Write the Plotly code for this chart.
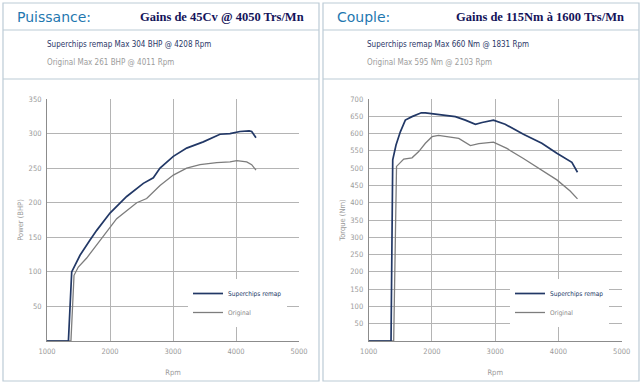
import plotly.graph_objects as go

# ---------------- data ----------------
power_rpm_remap = [1000, 1340, 1392, 1524, 1683, 1789, 2000, 2265, 2529, 2688, 2794, 3005, 3217, 3481, 3746, 3905, 4063, 4208, 4249, 4317]
power_remap = [0, 0, 100, 124, 146, 160, 185, 209, 228, 236, 250, 267, 279, 288, 299, 300, 303, 304, 303, 294]

power_rpm_orig = [1000, 1380, 1429, 1497, 1630, 1789, 1973, 2106, 2424, 2582, 2794, 3005, 3217, 3429, 3693, 3905, 4011, 4170, 4249, 4317]
power_orig = [0, 0, 95, 107, 120, 139, 160, 177, 200, 206, 225, 240, 250, 255, 258, 259, 261, 259, 255, 247]

torque_rpm_remap = [1000, 1353, 1380, 1432, 1500, 1579, 1685, 1791, 1831, 1896, 2002, 2212, 2370, 2528, 2687, 2793, 2972, 3157, 3446, 3737, 3975, 4212, 4301]
torque_remap = [0, 0, 524, 567, 605, 639, 649, 658, 660, 660, 658, 654, 649, 639, 627, 632, 639, 627, 598, 572, 543, 517, 488]

torque_rpm_orig = [1000, 1395, 1440, 1475, 1554, 1685, 1791, 1896, 2002, 2103, 2266, 2424, 2608, 2741, 2972, 3184, 3446, 3737, 3975, 4185, 4301]
torque_orig = [0, 0, 505, 511, 526, 530, 548, 572, 591, 595, 591, 586, 565, 571, 575, 557, 528, 495, 466, 434, 411]

x_ticks = [1000, 2000, 3000, 4000, 5000]
power_ticks = [50, 100, 150, 200, 250, 300, 350]
torque_ticks = [50, 100, 150, 200, 250, 300, 350, 400, 450, 500, 550, 600, 650, 700]

series_names = ["Superchips remap", "Original"]
panel_titles = ["Puissance:", "Couple:"]
panel_gains = ["Gains de 45Cv @ 4050 Trs/Mn", "Gains de 115Nm à 1600 Trs/Mn"]
panel_sub1 = ["Superchips remap Max 304 BHP @ 4208 Rpm", "Superchips remap Max 660 Nm @ 1831 Rpm"]
panel_sub2 = ["Original Max 261 BHP @ 4011 Rpm", "Original Max 595 Nm @ 2103 Rpm"]
y_titles = ["Power (BHP)", "Torque (Nm)"]
x_title = "Rpm"

# ---------------- styling ----------------
W, H = 643, 385
NARROW = "DejaVu Sans Condensed, Liberation Sans, sans-serif"
C_REMAP = "#223866"
C_ORIG = "#7d7d7d"
C_GRID = "#b4b4b4"
C_TICK = "#9a9a9a"
C_BORDER = "#bccbd6"

def px_x(p):
    return p / W

def px_y(p):
    return 1 - p / H

fig = go.Figure()

orig_label = "<span style='color:#8a8a8a'>" + series_names[1] + "</span>"
fig.add_trace(go.Scatter(x=power_rpm_orig, y=power_orig, mode="lines", name=orig_label,
                         line=dict(color=C_ORIG, width=1.3), xaxis="x", yaxis="y", legend="legend"))
fig.add_trace(go.Scatter(x=power_rpm_remap, y=power_remap, mode="lines", name=series_names[0],
                         line=dict(color=C_REMAP, width=1.7), xaxis="x", yaxis="y", legend="legend"))
fig.add_trace(go.Scatter(x=torque_rpm_orig, y=torque_orig, mode="lines", name=orig_label,
                         line=dict(color=C_ORIG, width=1.3), xaxis="x2", yaxis="y2", legend="legend2"))
fig.add_trace(go.Scatter(x=torque_rpm_remap, y=torque_remap, mode="lines", name=series_names[0],
                         line=dict(color=C_REMAP, width=1.7), xaxis="x2", yaxis="y2", legend="legend2"))

plot_top, plot_bot = 99, 341
left_dom = [px_x(47), px_x(299)]
right_dom = [px_x(368.7), px_x(621.7)]
ydom = [px_y(plot_bot), px_y(plot_top)]

def xaxis(domain, anchor):
    return dict(domain=domain, anchor=anchor, range=[1000, 5000], tickvals=x_ticks,
                showgrid=True, gridcolor=C_GRID, gridwidth=1, zeroline=False, automargin=False,
                showline=True, linecolor="#8c8c8c", linewidth=1, mirror=False,
                ticks="", ticklabelstandoff=3, tickfont=dict(family=NARROW, size=7.5, color=C_TICK),
                title=dict(text=x_title, font=dict(family=NARROW, size=7.5, color=C_TICK), standoff=14))

def yaxis(rng, ticks, anchor, title):
    return dict(domain=ydom, anchor=anchor, range=rng, tickvals=ticks, automargin=False,
                showgrid=True, gridcolor=C_GRID, gridwidth=1, zeroline=False,
                showline=True, linecolor="#8c8c8c", linewidth=1,
                ticks="", ticklabelstandoff=3, tickfont=dict(family=NARROW, size=7.5, color=C_TICK),
                title=dict(text=title, font=dict(family=NARROW, size=7.5, color=C_TICK), standoff=3))

shapes = []
annotations = []
panels = [(3, 319), (323, 639)]
for i, (x0, x1) in enumerate(panels):
    shapes.append(dict(type="rect", xref="paper", yref="paper", x0=px_x(x0), x1=px_x(x1),
                       y0=px_y(381), y1=px_y(3), line=dict(color=C_BORDER, width=1.2), layer="below"))
    for yy in (30, 79):
        shapes.append(dict(type="line", xref="paper", yref="paper", x0=px_x(x0), x1=px_x(x1),
                           y0=px_y(yy), y1=px_y(yy), line=dict(color=C_BORDER, width=1.2)))
    annotations.append(dict(text=panel_titles[i], xref="paper", yref="paper", x=px_x(x0 + 12), y=px_y(17),
                            xanchor="left", yanchor="middle", showarrow=False,
                            font=dict(family="DejaVu Sans", size=14, color="#1f78b0")))
    annotations.append(dict(text="<b>" + panel_gains[i] + "</b>", xref="paper", yref="paper",
                            x=px_x(x1 - 13), y=px_y(17), xanchor="right", yanchor="middle", showarrow=False,
                            font=dict(family="Liberation Serif", size=12.5, color="#14145a")))
    annotations.append(dict(text=panel_sub1[i], xref="paper", yref="paper", x=px_x(x0 + 42), y=px_y(44),
                            xanchor="left", yanchor="middle", showarrow=False,
                            font=dict(family=NARROW, size=8, color="#2b3768")))
    annotations.append(dict(text=panel_sub2[i], xref="paper", yref="paper", x=px_x(x0 + 42), y=px_y(63),
                            xanchor="left", yanchor="middle", showarrow=False,
                            font=dict(family=NARROW, size=8, color="#9c9c9c")))

legend_common = dict(bgcolor="white", borderwidth=0, itemwidth=30, traceorder="reversed",
                     font=dict(family=NARROW, size=6.5, color=C_REMAP), xanchor="left", yanchor="top",
                     tracegroupgap=0)

fig.update_layout(
    width=W, height=H, margin=dict(l=0, r=0, t=0, b=0, pad=0), autosize=False,
    paper_bgcolor="white", plot_bgcolor="white",
    xaxis=xaxis(left_dom, "y"), yaxis=yaxis([0, 350], power_ticks, "x", y_titles[0]),
    xaxis2=xaxis(right_dom, "y2"), yaxis2=yaxis([0, 700], torque_ticks, "x2", y_titles[1]),
    legend=dict(x=px_x(188), y=px_y(279), **legend_common),
    legend2=dict(x=px_x(510), y=px_y(279), **legend_common),
    shapes=shapes, annotations=annotations, showlegend=True,
)

fig.write_html("out.html", config={"displayModeBar": False},
               post_script="document.body.style.margin='0';")
